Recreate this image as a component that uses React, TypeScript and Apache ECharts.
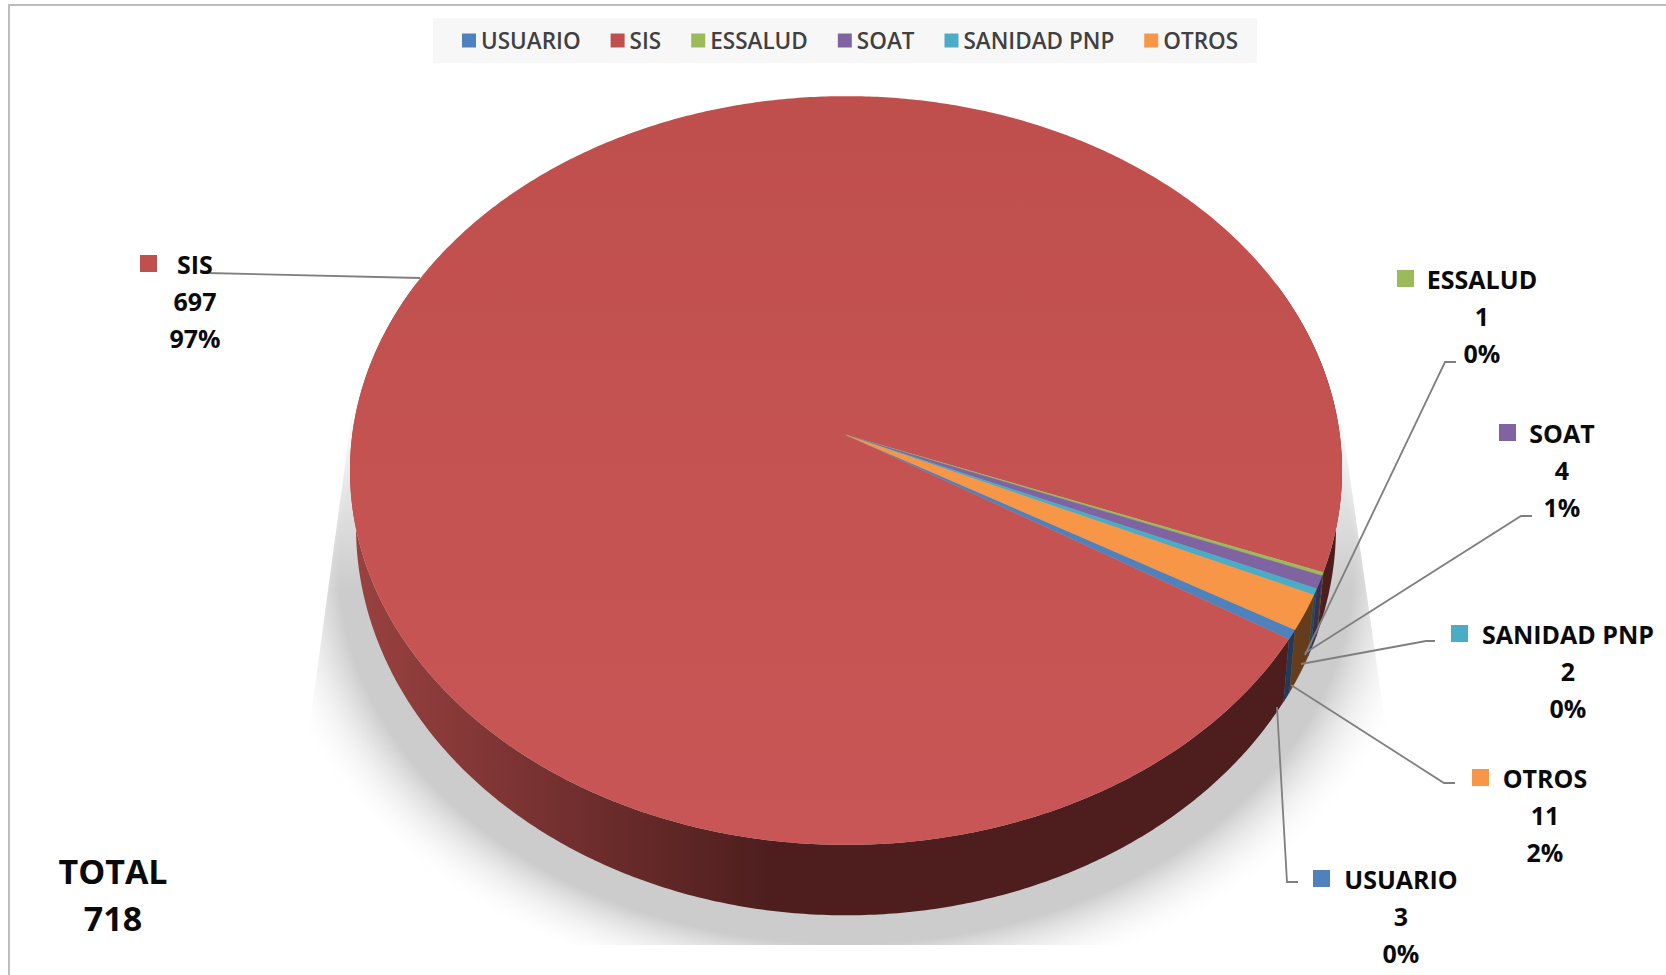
import React, { useEffect, useRef } from "react";
import * as echarts from "echarts";

const categories = ["USUARIO", "SIS", "ESSALUD", "SOAT", "SANIDAD PNP", "OTROS"];
const values = [3, 697, 1, 4, 2, 11];
const total = 718;
const topColors = ["#4f81bd", "#c0504d", "#9bbb59", "#8064a2", "#4bacc6", "#f79646"];
const wallColors = ["#1f3a5c", "#4e1e1e", "#3f4f20", "#3a2c52", "#1b4f5f", "#663d1c"];

// Page layout of the label blocks: name centre x, first line y, swatch x, leader line points
const labelLayout: Record<string, { cx: number; y: number; sx: number; line: number[][] }> = {
  USUARIO: { cx: 1401, y: 879, sx: 1313, line: [[1298, 882], [1287, 882], [1277, 707]] },
  SIS: { cx: 195, y: 264, sx: 140, line: [[207, 273], [420, 278]] },
  ESSALUD: { cx: 1482, y: 279, sx: 1397, line: [[1456, 362], [1445, 362], [1305, 655]] },
  SOAT: { cx: 1562, y: 433, sx: 1499, line: [[1532, 516], [1521, 516], [1305, 653]] },
  "SANIDAD PNP": { cx: 1568, y: 634, sx: 1451, line: [[1435, 641], [1426, 641], [1301, 664]] },
  OTROS: { cx: 1545, y: 778, sx: 1472, line: [[1455, 783], [1444, 783], [1291, 685]] },
};

const START_DEG = 120;
const P = 0.0948;
const TOP = { x0: 846, y0: 435, w: 493.8, k: 371 };
const BASE = { x0: 846, y0: 490, w: 487.8, k: 385 };
const FONT = '"Open Sans", sans-serif';

function project(deg: number, f: { x0: number; y0: number; w: number; k: number }) {
  const t = (deg * Math.PI) / 180;
  const a = Math.sin(t);
  const b = -Math.cos(t);
  const d = 1 - P * b;
  return [f.x0 + (f.w * a) / d, f.y0 + (f.k * b) / d];
}

function arc(from: number, to: number, f: typeof TOP) {
  const n = Math.max(2, Math.ceil((to - from) / 0.5));
  const pts: number[][] = [];
  for (let i = 0; i <= n; i++) pts.push(project(from + ((to - from) * i) / n, f));
  return pts;
}

function sliceRange(index: number, vals: number[]) {
  let before = 0;
  for (let i = 0; i < index; i++) before += vals[i];
  const sum = vals.reduce((s, v) => s + v, 0);
  return [START_DEG + (before / sum) * 360, START_DEG + ((before + vals[index]) / sum) * 360];
}

function visibleWalls(a: number, b: number) {
  const res: number[][] = [];
  for (const [lo, hi] of [[65, 295], [425, 655]]) {
    const s = Math.max(a, lo);
    const e = Math.min(b, hi);
    if (e > s) res.push([s, e]);
  }
  return res;
}

function App() {
  const ref = useRef<HTMLDivElement>(null);
  useEffect(() => {
    const chart = echarts.init(ref.current!, undefined, { renderer: "svg" });

    const sliceSeries = categories.map((name, index) => ({
      type: "custom",
      name,
      coordinateSystem: "none",
      silent: true,
      clip: false,
      z: 3,
      itemStyle: { color: topColors[index] },
      data: [[values[index]]],
      renderItem: () => {
        const [a, b] = sliceRange(index, values);
        const children: any[] = [];
        const wallFill =
          name === "SIS"
            ? new echarts.graphic.LinearGradient(360, 0, 770, 0, [
                { offset: 0, color: "#984140" },
                { offset: 1, color: "#4e1e1e" },
              ], true)
            : wallColors[index];
        for (const [s, e] of visibleWalls(a, b)) {
          const pts = [...arc(s, e, TOP), ...arc(s, e, BASE).reverse()];
          children.push({
            type: "polygon",
            shape: { points: pts },
            style: { fill: wallFill, stroke: name === "SIS" ? "none" : wallColors[index], lineWidth: 0.5 },
          });
        }
        const face =
          name === "SIS"
            ? new echarts.graphic.LinearGradient(0, 96, 0, 845, [
                { offset: 0, color: "#bf4f4c" },
                { offset: 1, color: "#c85656" },
              ], true)
            : topColors[index];
        children.push({
          type: "polygon",
          shape: { points: [[TOP.x0, TOP.y0], ...arc(a, b, TOP)] },
          style: { fill: face, stroke: name === "SIS" ? "none" : topColors[index], lineWidth: 0.4 },
        });
        return { type: "group", children };
      },
    }));

    const labelSeries = {
      type: "custom",
      name: "etiquetas",
      coordinateSystem: "none",
      silent: true,
      clip: false,
      z: 5,
      data: categories.map((_, i) => [i, values[i]]),
      renderItem: (_p: any, api: any) => {
        const i = api.value(0);
        const v = api.value(1);
        const name = categories[i];
        const l = labelLayout[name];
        const lines = [name, String(v), `${Math.round((v / total) * 100)}%`];
        const children: any[] = [
          {
            type: "polyline",
            shape: { points: l.line },
            style: { stroke: "#7f7f7f", lineWidth: 1.8, fill: "none" },
          },
          {
            type: "rect",
            shape: { x: l.sx, y: l.y - 9, width: 17, height: 17 },
            style: { fill: topColors[i] },
          },
        ];
        lines.forEach((t, k) => {
          children.push({
            type: "text",
            style: {
              text: t,
              x: l.cx,
              y: l.y + k * 37,
              fill: "#0a0a0a",
              font: `bold 25px ${FONT}`,
              textAlign: "center",
              textVerticalAlign: "middle",
            },
          });
        });
        return { type: "group", children };
      },
    };

    const fadeTop = () =>
      new echarts.graphic.LinearGradient(0, 340, 0, 590, [
        { offset: 0, color: "#ffffff" },
        { offset: 0.25, color: "rgba(255,255,255,0.9)" },
        { offset: 1, color: "rgba(255,255,255,0)" },
      ], true);

    chart.setOption({
      animation: false,
      backgroundColor: "#ffffff",
      legend: {
        data: categories,
        left: 433,
        top: 18,
        orient: "horizontal",
        backgroundColor: "#f7f7f7",
        padding: [11, 19, 11, 29],
        itemWidth: 14,
        itemHeight: 14,
        itemGap: 30,
        icon: "rect",
        selectedMode: false,
        textStyle: { fontFamily: FONT, fontSize: 22.5, fontWeight: 600, color: "#404040" },
      },
      graphic: [
        {
          type: "rect",
          shape: { x: 8, y: 4, width: 2, height: 971 },
          style: { fill: "#bdbdbd" },
        },
        {
          type: "rect",
          shape: { x: 8, y: 4, width: 1658, height: 2 },
          style: { fill: "#bdbdbd" },
        },
        {
          type: "polygon",
          shape: {
            points: [[846, 96], [352, 413], [280, 945], [1417, 945], [1335, 373]],
          },
          style: {
            fill: new echarts.graphic.RadialGradient(
              (846 - 280) / 1137,
              (565 - 96) / 849,
              0.5189,
              [
                { offset: 0, color: "#cccccc" },
                { offset: 0.86, color: "#cccccc" },
                { offset: 1, color: "rgba(255,255,255,0)" },
              ],
            ),
          },
        },
        {
          type: "rect",
          shape: { x: 270, y: 340, width: 150, height: 250 },
          style: { fill: fadeTop() },
        },
        {
          type: "rect",
          shape: { x: 1270, y: 340, width: 160, height: 250 },
          style: { fill: fadeTop() },
        },
        {
          type: "text",
          style: {
            text: "TOTAL\n718",
            x: 113,
            y: 894,
            fill: "#0a0a0a",
            font: `bold 34px ${FONT}`,
            lineHeight: 47,
            textAlign: "center",
            textVerticalAlign: "middle",
          },
        },
      ],
      series: [...sliceSeries, labelSeries],
    });
    return () => chart.dispose();
  }, []);
  return (
    <div
      ref={ref}
      style={{ position: "fixed", left: 0, top: 0, width: 1666, height: 975, background: "#fff" }}
    />
  );
}

export default App;
